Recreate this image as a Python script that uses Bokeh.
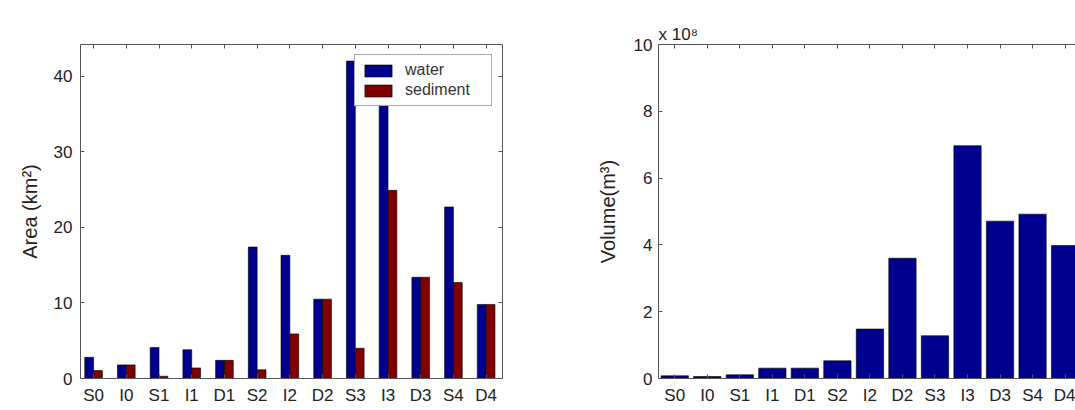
from bokeh.plotting import figure
from bokeh.layouts import row
from bokeh.models import Range1d, FixedTicker, LinearAxis, Title, ColumnDataSource
from bokeh.transform import dodge
from bokeh.embed import file_html
from bokeh.resources import INLINE

# ---------------- data ----------------
categories = ["S0", "I0", "S1", "I1", "D1", "S2", "I2", "D2", "S3", "I3", "D3", "S4", "D4"]
water_area = [2.8, 1.8, 4.1, 3.8, 2.4, 17.4, 16.3, 10.5, 42.0, 40.0, 13.4, 22.7, 9.8]
sediment_area = [1.05, 1.8, 0.3, 1.4, 2.4, 1.15, 5.9, 10.5, 4.0, 24.9, 13.4, 12.7, 9.8]
volume_m3 = [0.08e8, 0.06e8, 0.11e8, 0.31e8, 0.31e8, 0.53e8, 1.48e8, 3.6e8,
             1.28e8, 6.97e8, 4.71e8, 4.92e8, 3.98e8]
area_ticks = [0, 10, 20, 30, 40]
volume_ticks = [0, 2, 4, 6, 8, 10]
volume_scale = 1e8

FONT = "Liberation Sans"
BLUE = "#00008F"
RED = "#800000"
AXIS_COLOR = "#555555"
TEXT_COLOR = "#222222"
TICK_FS = "17px"
LABEL_FS = "20px"

xs = [i + 1 for i in range(len(categories))]
cat_labels = {x: c for x, c in zip(xs, categories)}


def style_axis(ax):
    ax.axis_line_color = AXIS_COLOR
    ax.axis_line_width = 1
    ax.major_tick_line_color = AXIS_COLOR
    ax.major_tick_in = 4
    ax.major_tick_out = 0
    ax.minor_tick_line_color = None
    ax.major_label_text_font = FONT
    ax.major_label_text_font_size = TICK_FS
    ax.major_label_text_color = TEXT_COLOR
    ax.axis_label_text_font = FONT
    ax.axis_label_text_font_style = "normal"
    ax.axis_label_text_font_size = LABEL_FS
    ax.axis_label_text_color = TEXT_COLOR


def box_axis(ticks):
    ax = LinearAxis(ticker=FixedTicker(ticks=ticks),
                    major_label_overrides={t: "" for t in ticks})
    style_axis(ax)
    ax.major_label_text_font_size = "0px"
    ax.major_label_standoff = 0
    return ax


# ---------------- left: area ----------------
p1 = figure(width=560, height=408, output_backend="svg", toolbar_location=None,
            x_range=Range1d(0.6, 13.5), y_range=Range1d(0, 44.2),
            min_border_left=80, min_border_right=58, min_border_top=44, min_border_bottom=30)
p1.frame_width = 422
p1.frame_height = 334
p1.outline_line_color = None
p1.xgrid.visible = False
p1.ygrid.visible = False

src1 = ColumnDataSource(dict(x=xs, water=water_area, sediment=sediment_area))
p1.vbar(x=dodge("x", -0.135, range=p1.x_range), top="water", width=0.27, bottom=0,
        source=src1, fill_color=BLUE, line_color="black", line_width=0.6,
        legend_label="water")
p1.vbar(x=dodge("x", 0.135, range=p1.x_range), top="sediment", width=0.27, bottom=0,
        source=src1, fill_color=RED, line_color="black", line_width=0.6,
        legend_label="sediment")

p1.xaxis.ticker = FixedTicker(ticks=xs)
p1.xaxis.major_label_overrides = cat_labels
p1.xaxis.major_label_standoff = 7
p1.yaxis.ticker = FixedTicker(ticks=area_ticks)
p1.yaxis.axis_label = "Area (km²)"
p1.yaxis.major_label_standoff = 8
p1.yaxis.axis_label_standoff = 10
for ax in p1.xaxis + p1.yaxis:
    style_axis(ax)

p1.add_layout(box_axis(xs), "above")
p1.add_layout(box_axis(area_ticks), "right")

lg = p1.legend[0]
lg.location = "top_right"
lg.margin = 10
lg.padding = 6
lg.spacing = 2
lg.glyph_width = 34
lg.glyph_height = 15
lg.label_height = 15
lg.label_width = 80
lg.label_standoff = 10
lg.label_text_font = FONT
lg.label_text_font_size = "16px"
lg.label_text_color = "#333333"
lg.border_line_color = AXIS_COLOR
lg.border_line_width = 1
lg.background_fill_alpha = 1

# ---------------- right: volume ----------------
vol_scaled = [v / volume_scale for v in volume_m3]
p2 = figure(width=515, height=408, output_backend="svg", toolbar_location=None,
            x_range=Range1d(0.5, 13.32), y_range=Range1d(0, 10),
            min_border_left=98, min_border_right=0, min_border_top=44, min_border_bottom=30)
p2.frame_width = 417
p2.frame_height = 334
p2.outline_line_color = None
p2.xgrid.visible = False
p2.ygrid.visible = False

src2 = ColumnDataSource(dict(x=xs, vol=vol_scaled))
p2.vbar(x="x", top="vol", width=0.84, bottom=0, source=src2,
        fill_color=BLUE, line_color="black", line_width=0.6)

p2.xaxis.ticker = FixedTicker(ticks=xs)
p2.xaxis.major_label_overrides = cat_labels
p2.xaxis.major_label_standoff = 7
p2.yaxis.ticker = FixedTicker(ticks=volume_ticks)
p2.yaxis.axis_label = "Volume(m³)"
p2.yaxis.major_label_standoff = 6
p2.yaxis.axis_label_standoff = 12
for ax in p2.xaxis + p2.yaxis:
    style_axis(ax)

p2.add_layout(box_axis(xs), "above")
p2.add_layout(Title(text="x 10⁸", align="left", standoff=2, offset=0,
                    text_font=FONT, text_font_size="17px", text_font_style="normal",
                    text_color=TEXT_COLOR), "above")

layout = row(p1, p2)
open("out.html", "w").write(file_html(layout, INLINE))
